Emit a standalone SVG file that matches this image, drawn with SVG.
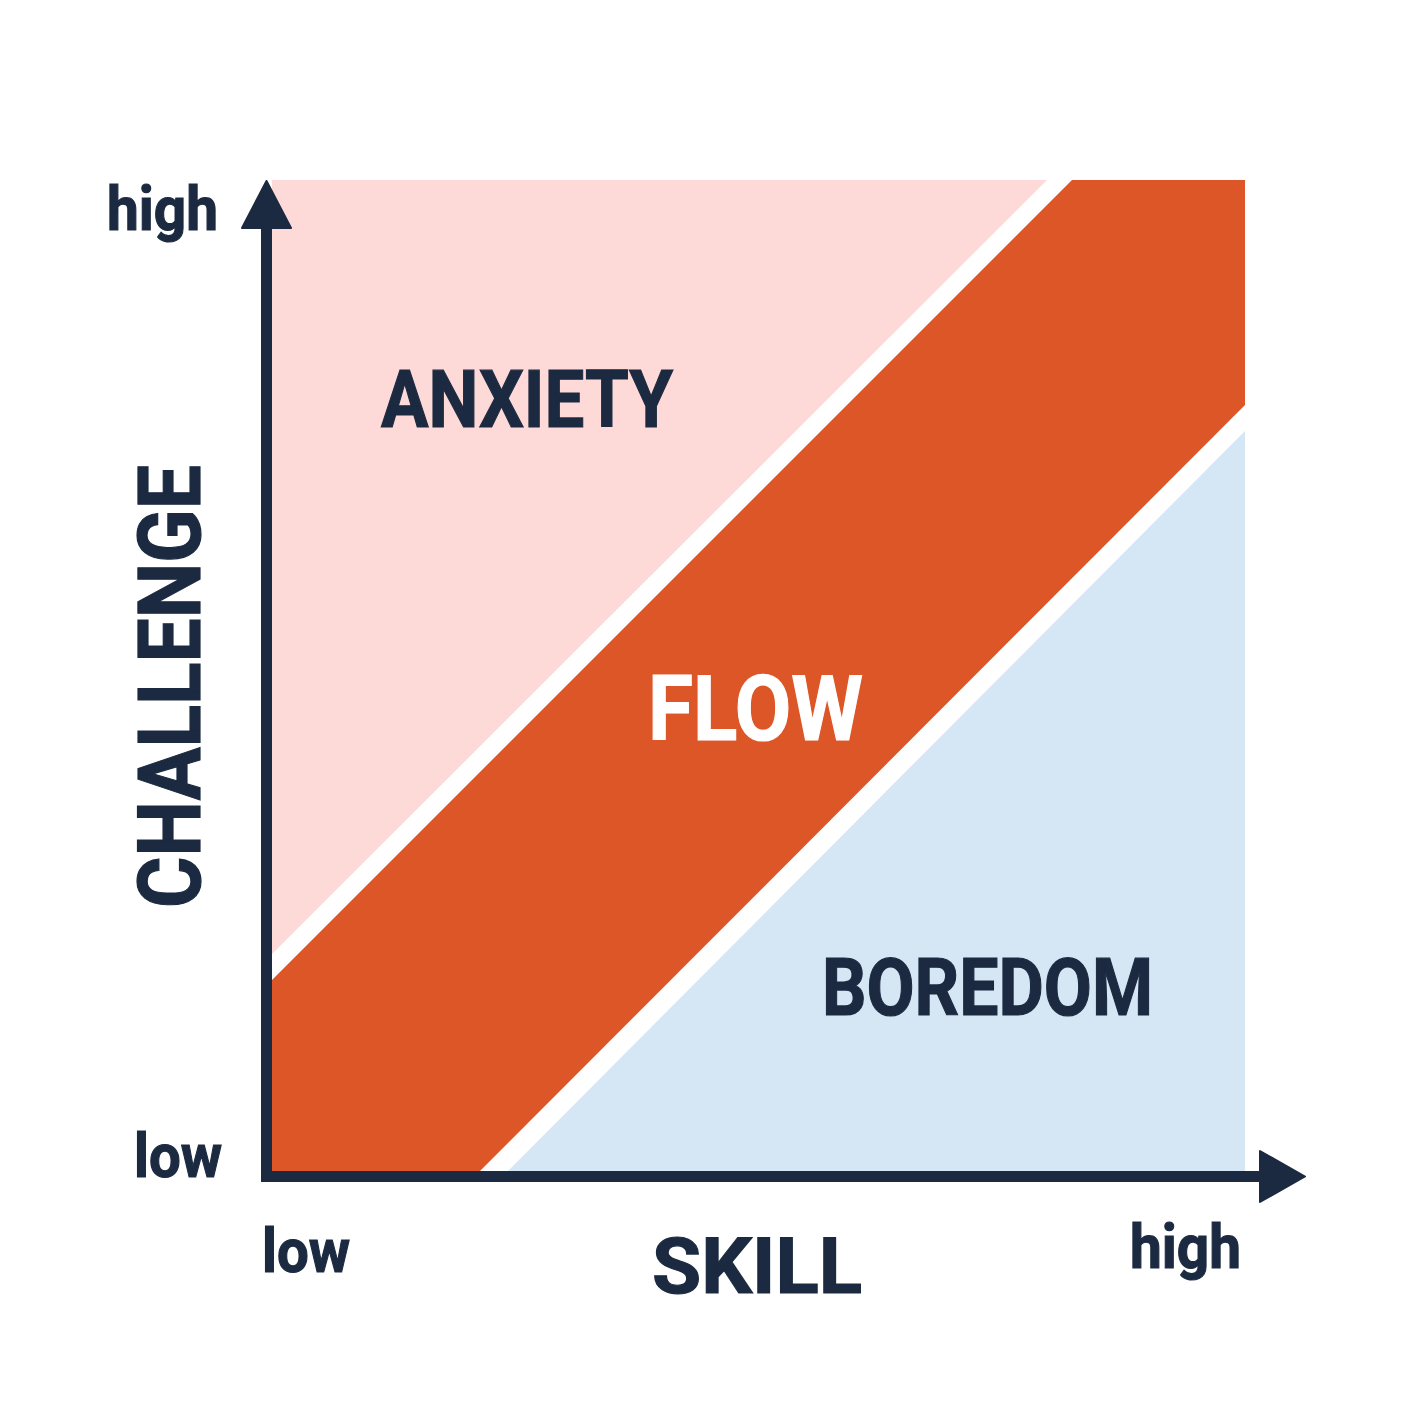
<svg xmlns="http://www.w3.org/2000/svg" width="1420" height="1420" viewBox="0 0 1420 1420">
  <style>
    .lbl { font-family: Roboto, "Liberation Sans", sans-serif; font-weight: 700; fill: #1b2a40; stroke: #1b2a40; stroke-width: 1.2; }
    .big { font-family: Roboto, "Liberation Sans", sans-serif; font-weight: 700; stroke-width: 1.2; }
    .axis { stroke: #1b2a40; stroke-width: 11; fill: none; }
    .head { fill: #1b2a40; stroke: #1b2a40; stroke-width: 2; stroke-linejoin: round; }
  </style>
  <rect width="1420" height="1420" fill="#ffffff"/>
  <g id="anxiety-zone">
    <polygon points="272,180 1047,180 272,954" fill="#fdd9d8"/>
  </g>
  <g id="flow-zone">
    <polygon points="272,980 1072,180 1245,180 1245,405 480,1171 272,1171" fill="#dc5627"/>
  </g>
  <g id="boredom-zone">
    <polygon points="508,1171 1245,431 1245,1171" fill="#d5e6f5"/>
  </g>
  <g id="connectors">
    <line class="axis" x1="266.5" y1="1182" x2="266.5" y2="222"/>
    <polygon class="head" points="266.5,181 291,228 242,228"/>
    <line class="axis" x1="261" y1="1176.5" x2="1264" y2="1176.5"/>
    <polygon class="head" points="1305,1176.5 1260,1151 1260,1202"/>
  </g>
  <g id="label-anxiety">
    <text class="big" x="381" y="427" font-size="80" fill="#1b2a40" stroke="#1b2a40" textLength="292" lengthAdjust="spacingAndGlyphs">ANXIETY</text>
  </g>
  <g id="label-flow">
    <text class="big" x="648" y="740" font-size="91" fill="#ffffff" stroke="#ffffff" textLength="215" lengthAdjust="spacingAndGlyphs">FLOW</text>
  </g>
  <g id="label-boredom">
    <text class="big" x="822" y="1015" font-size="80" fill="#1b2a40" stroke="#1b2a40" textLength="331" lengthAdjust="spacingAndGlyphs">BOREDOM</text>
  </g>
  <g id="label-challenge">
    <text class="big" transform="translate(200,908) rotate(-90)" x="0" y="0" font-size="88" fill="#1b2a40" stroke="#1b2a40" textLength="443" lengthAdjust="spacingAndGlyphs">CHALLENGE</text>
  </g>
  <g id="label-skill">
    <text class="big" x="652" y="1293" font-size="78" fill="#1b2a40" stroke="#1b2a40" textLength="210" lengthAdjust="spacingAndGlyphs">SKILL</text>
  </g>
  <g id="tick-labels">
    <text class="lbl" x="107" y="230" font-size="62" textLength="111" lengthAdjust="spacingAndGlyphs">high</text>
    <text class="lbl" x="134" y="1177" font-size="62" textLength="88" lengthAdjust="spacingAndGlyphs">low</text>
    <text class="lbl" x="262" y="1272" font-size="62" textLength="88" lengthAdjust="spacingAndGlyphs">low</text>
    <text class="lbl" x="1130" y="1268" font-size="62" textLength="111" lengthAdjust="spacingAndGlyphs">high</text>
  </g>
</svg>
